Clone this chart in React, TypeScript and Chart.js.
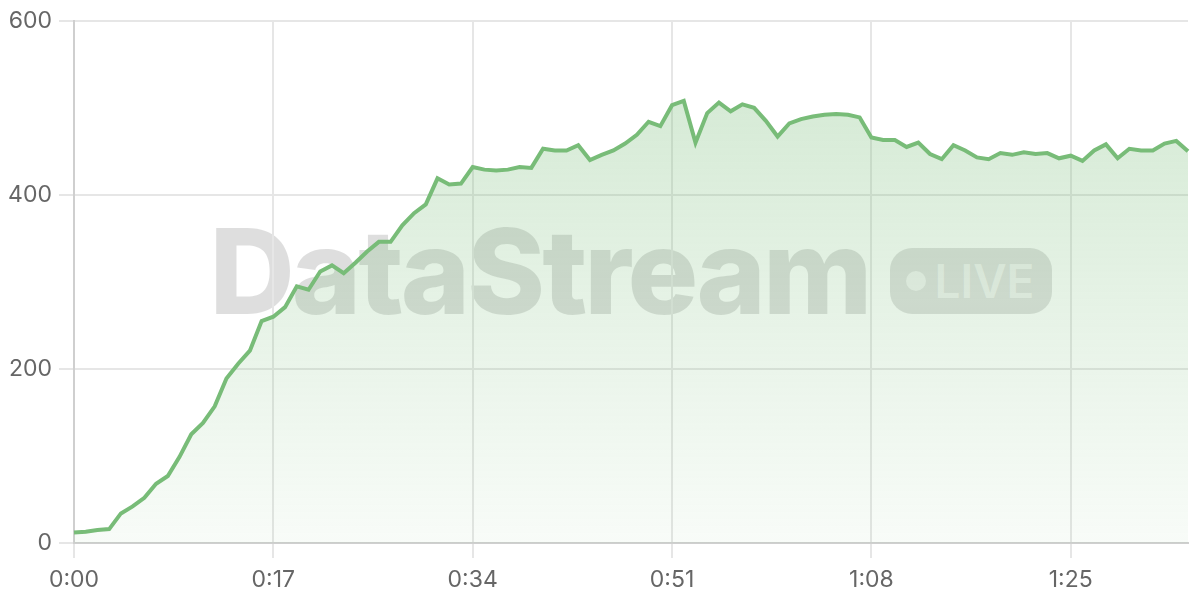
import { useEffect, useRef } from "react";
import Chart from "chart.js/auto";

// viewers per second, one reading a second from 0:00 to 1:35
const viewers = [
  12, 13, 15, 16, 34, 42, 52, 68, 77, 99,
  125, 138, 157, 189, 206, 221, 255, 260, 271, 295,
  291, 312, 319, 310, 322, 335, 346, 346, 365, 379,
  389, 419, 412, 413, 432, 429, 428, 429, 432, 431,
  453, 451, 451, 457, 440, 446, 451, 459, 469, 484,
  479, 503, 508, 460, 494, 506, 496, 504, 500, 485,
  467, 482, 487, 490, 492, 493, 492, 489, 466, 463,
  463, 455, 460, 447, 441, 457, 451, 443, 441, 448,
  446, 449, 447, 448, 442, 445, 439, 451, 458, 442,
  453, 451, 451, 459, 462, 450,
];
const xTickLabels = ["0:00", "0:17", "0:34", "0:51", "1:08", "1:25"];
const xTickEvery = 17;
const yTicks = [0, 200, 400, 600];

const lineColor = "#78bc78";
const font = { family: "Inter", size: 23 };

export default function App() {
  const chartRef = useRef<HTMLCanvasElement | null>(null);
  const chartInstance = useRef<Chart | null>(null);

  useEffect(() => {
    if (!chartRef.current) {
      return;
    }
    if (chartInstance.current) {
      chartInstance.current.destroy();
    }

    chartInstance.current = new Chart(chartRef.current, {
      type: "line",
      data: {
        labels: viewers.map((_, i) => i),
        datasets: [
          {
            data: viewers,
            borderColor: lineColor,
            borderWidth: 4,
            pointRadius: 0,
            tension: 0,
            fill: "origin",
            backgroundColor: (ctx: any) => {
              const area = ctx.chart.chartArea;
              if (!area) return "rgba(120,188,120,0.2)";
              const g = ctx.chart.ctx.createLinearGradient(0, area.top, 0, area.bottom);
              g.addColorStop(0, "rgba(120,188,120,0.35)");
              g.addColorStop(1, "rgba(120,188,120,0.05)");
              return g;
            }
          }
        ]
      },
      options: {
        responsive: true,
        maintainAspectRatio: false,
        animation: false,
        layout: { padding: { top: 19, right: 12, left: 0, bottom: 0 } },
        plugins: {
          legend: { display: false },
          tooltip: { enabled: false }
        },
        scales: {
          x: {
            type: "category",
            offset: false,
            afterFit: (scale: any) => {
              scale.height = 57;
            },
            ticks: {
              autoSkip: false,
              maxRotation: 0,
              color: "#666",
              font,
              padding: 8,
              callback: (_v: any, i: number) =>
                i % xTickEvery === 0 ? xTickLabels[i / xTickEvery] : null
            },
            grid: { color: "#e6e6e6", lineWidth: 2, tickLength: 15 },
            border: { color: "#cfcfcf", width: 2 }
          },
          y: {
            min: yTicks[0],
            max: yTicks[yTicks.length - 1],
            afterFit: (scale: any) => {
              scale.width = 74;
            },
            afterBuildTicks: (scale: any) => {
              scale.ticks = yTicks.map((v) => ({ value: v }));
            },
            ticks: { color: "#666", font, padding: 7 },
            grid: { color: "#e6e6e6", lineWidth: 2, tickLength: 15 },
            border: { color: "#cfcfcf", width: 2 }
          }
        }
      }
    });

    return () => {
      chartInstance.current?.destroy();
      chartInstance.current = null;
    };
  }, []);

  return (
    <div style={{ position: "absolute", left: 0, top: 0, width: 1200, height: 600, background: "#fff" }}>
      <div
        style={{
          position: "absolute",
          left: 74,
          top: 9,
          width: 1114,
          height: 524,
          display: "flex",
          alignItems: "center",
          justifyContent: "center",
          gap: 21,
          fontFamily: "Inter",
          pointerEvents: "none"
        }}
      >
        <span style={{ fontSize: 118, fontWeight: 800, letterSpacing: -3, color: "rgba(0,0,0,0.13)", lineHeight: 1 }}>
          DataStream
        </span>
        <span
          style={{
            display: "flex",
            alignItems: "center",
            gap: 8,
            height: 66,
            padding: "0 18px 0 16px",
            borderRadius: 22,
            background: "rgba(0,0,0,0.12)",
            color: "rgba(255,255,255,0.6)",
            fontSize: 46,
            fontWeight: 600,
            marginTop: 20
          }}
        >
          <span style={{ width: 20, height: 20, borderRadius: 10, background: "rgba(255,255,255,0.6)" }} />
          LIVE
        </span>
      </div>
      <div style={{ position: "absolute", left: 0, top: 0, width: 1200, height: 600 }}>
        <canvas ref={chartRef}></canvas>
      </div>
    </div>
  );
}
